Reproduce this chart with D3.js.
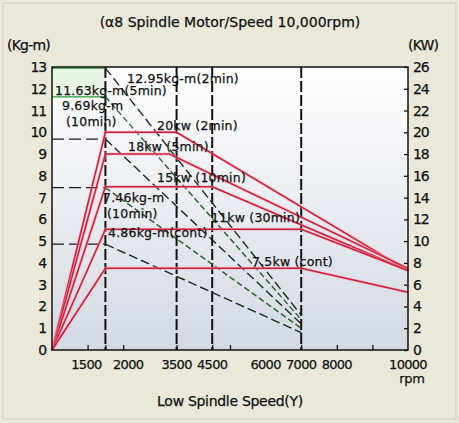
<!DOCTYPE html>
<html><head><meta charset="utf-8">
<script src="https://cdn.jsdelivr.net/npm/d3@7"></script>
<style>
html,body{margin:0;padding:0;background:#ebe8da;}
text{font-family:"DejaVu Sans",Arial,sans-serif;fill:#111;stroke:#111;stroke-width:0.25px;}
</style></head>
<body>
<svg id="c" width="459" height="423"></svg>
<script>
// ---- data ----
const title = "(α8 Spindle Motor/Speed 10,000rpm)";
const xLabel = "Low Spindle Speed(Y)";
const xUnit = "rpm";
const yLeftUnit = "(Kg-m)";
const yRightUnit = "(KW)";
const xTickLabels = [1500, 2000, 3500, 4500, 6000, 7000, 8000, 10000];
const xMinorTicks = [1000, 1500, 2000, 3500, 4500, 5000, 7000, 8000, 9000];
const speedLines = [1500, 3500, 4500, 7000];
const leftTicks = [0,1,2,3,4,5,6,7,8,9,10,11,12,13];
const rightTicks = [0,2,4,6,8,10,12,14,16,18,20,22,24,26];

// power curves (kW) : [rpm, kW]
const power20 = [[0,0],[1500,20],[3500,20],[10000,7.3]];
const power18 = [[0,0],[1500,18],[3300,18],[10000,7.5]];
const power15 = [[0,0],[1500,15],[4500,15],[10000,7.3]];
const power11 = [[0,0],[1500,11.1],[7000,11.1],[10000,7.3]];
const power75 = [[0,0],[1500,7.5],[7000,7.5],[10000,5.3]];
const powerSeries = [power20, power18, power15, power11, power75];

// torque curves (kg-m) : [rpm, kg-m]
const torque1295 = [[0,12.95],[1500,12.95],[7000,1.6]];
const torque1163 = [[0,11.63],[1500,11.63],[7000,1.4]];
const torque969  = [[0,9.69],[1500,9.69],[7000,1.2]];
const torque746  = [[0,7.46],[1500,7.46],[7000,1.0]];
const torque486  = [[0,4.86],[1500,4.86],[7000,0.8]];
const torqueSeries = [torque1295, torque1163, torque969, torque746, torque486];

const annotations = [
  {t:"12.95kg-m(2min)", x:127, y:83},
  {t:"11.63kg-m(5min)", x:55, y:95},
  {t:"9.69kg-m", x:62, y:110},
  {t:"(10min)", x:66, y:126},
  {t:"20kw (2min)", x:157, y:130},
  {t:"18kw (5min)", x:128, y:151},
  {t:"15kw (10min)", x:157, y:182},
  {t:"7.46kg-m", x:103, y:202},
  {t:"(10min)", x:107, y:218},
  {t:"11kw (30min)", x:211, y:222},
  {t:"4.86kg-m(cont)", x:108, y:237},
  {t:"7.5kw (cont)", x:252, y:266}
];

// ---- layout ----
const svg = d3.select("#c");
const L = 52, R = 408, T = 67, B = 350;
const x = d3.scaleLinear().domain([0,10000]).range([L,R]);
const yL = d3.scaleLinear().domain([0,13]).range([B,T]);
const yR = d3.scaleLinear().domain([0,26]).range([B,T]);

const defs = svg.append("defs");
const g = defs.append("linearGradient").attr("id","bg").attr("x1",0).attr("y1",0).attr("x2",0).attr("y2",1);
g.append("stop").attr("offset","0%").attr("stop-color","#ffffff");
g.append("stop").attr("offset","100%").attr("stop-color","#d3d9e4");

svg.append("rect").attr("x",3).attr("y",3).attr("width",453).attr("height",416)
  .attr("fill","#ebe8da").attr("stroke","#d2cebf");

svg.append("rect").attr("x",L).attr("y",T).attr("width",R-L).attr("height",B-T).attr("fill","url(#bg)");
// pale green top-left cell
svg.append("rect").attr("x",x(0)).attr("y",yL(13)).attr("width",x(1500)-x(0)).attr("height",yL(11.63)-yL(13))
  .attr("fill","#e6f4e4");

// vertical speed lines
svg.selectAll(".vl").data(speedLines).enter().append("line")
  .attr("x1",d=>x(d)).attr("x2",d=>x(d)).attr("y1",T).attr("y2",B)
  .attr("stroke","#111").attr("stroke-width",2).attr("stroke-dasharray","11,3");

// torque curves
const lineL = d3.line().x(d=>x(d[0])).y(d=>yL(d[1]));
torqueSeries.forEach((s,i)=>{
  svg.append("path").attr("d",lineL(s.slice(0,2))).attr("fill","none")
    .attr("stroke", i<2 ? "#2f9a3f" : "#1a1a1a").attr("stroke-width",1.3)
    .attr("stroke-dasharray", i<2 ? null : "12,5");
  svg.append("path").attr("d",lineL(s.slice(1))).attr("fill","none")
    .attr("stroke", i%2===0 ? "#1c2a1c" : "#2c5e30").attr("stroke-width",1.4)
    .attr("stroke-dasharray", i%2===0 ? "9,4" : "6,3");
});

// power curves
const lineR = d3.line().x(d=>x(d[0])).y(d=>yR(d[1]));
powerSeries.forEach(s=>{
  svg.append("path").attr("d",lineR(s)).attr("fill","none")
    .attr("stroke","#f3a5b3").attr("stroke-width",3).attr("opacity",0.6);
  svg.append("path").attr("d",lineR(s)).attr("fill","none")
    .attr("stroke","#cf1e3c").attr("stroke-width",1.5);
});

// frame
svg.append("rect").attr("x",L).attr("y",T).attr("width",R-L).attr("height",B-T)
  .attr("fill","none").attr("stroke","#111").attr("stroke-width",1.5);

// axes
const axL = d3.axisLeft(yL).tickValues(leftTicks).tickSize(0).tickPadding(6);
const gL = svg.append("g").attr("transform",`translate(${L},0)`).call(axL);
const axR = d3.axisRight(yR).tickValues(rightTicks).tickSize(-4).tickPadding(5);
const gR = svg.append("g").attr("transform",`translate(${R},0)`).call(axR);
const axB = d3.axisBottom(x).tickValues(xMinorTicks).tickSize(-5).tickFormat("");
const gB = svg.append("g").attr("transform",`translate(0,${B})`).call(axB);
[gL,gR,gB].forEach(a=>{a.select(".domain").remove(); a.selectAll("line").attr("stroke","#111").attr("stroke-width",1.3);});
[gL,gR].forEach(a=>a.selectAll("text").attr("font-size",14).attr("letter-spacing","-1.2px")
  .attr("font-family","DejaVu Sans").attr("fill","#111").attr("stroke","#111").attr("stroke-width",0.25));

const labelShift = {1500:-19, 2000:5};
svg.selectAll(".xl").data(xTickLabels).enter().append("text")
  .attr("x",d=>x(d)+(labelShift[d]||0)).attr("y",369).attr("text-anchor","middle")
  .attr("font-size",13).attr("letter-spacing","-0.7px").text(d=>d);

svg.append("text").attr("x",412).attr("y",383).attr("text-anchor","middle").attr("font-size",13).attr("letter-spacing","-0.3px").text(xUnit);
svg.append("text").attr("x",230).attr("y",406).attr("text-anchor","middle").attr("font-size",14).attr("letter-spacing","-0.3px").text(xLabel);
svg.append("text").attr("x",230).attr("y",27).attr("text-anchor","middle").attr("font-size",14).attr("letter-spacing","0px").text(title);
svg.append("text").attr("x",7).attr("y",50).attr("font-size",14).attr("letter-spacing","-0.8px").text(yLeftUnit);
svg.append("text").attr("x",408).attr("y",50).attr("font-size",14).attr("letter-spacing","-0.8px").text(yRightUnit);

svg.selectAll(".an").data(annotations).enter().append("text")
  .attr("x",d=>d.x).attr("y",d=>d.y).attr("font-size",12.5).attr("letter-spacing","0.2px").text(d=>d.t);
</script>
</body></html>
